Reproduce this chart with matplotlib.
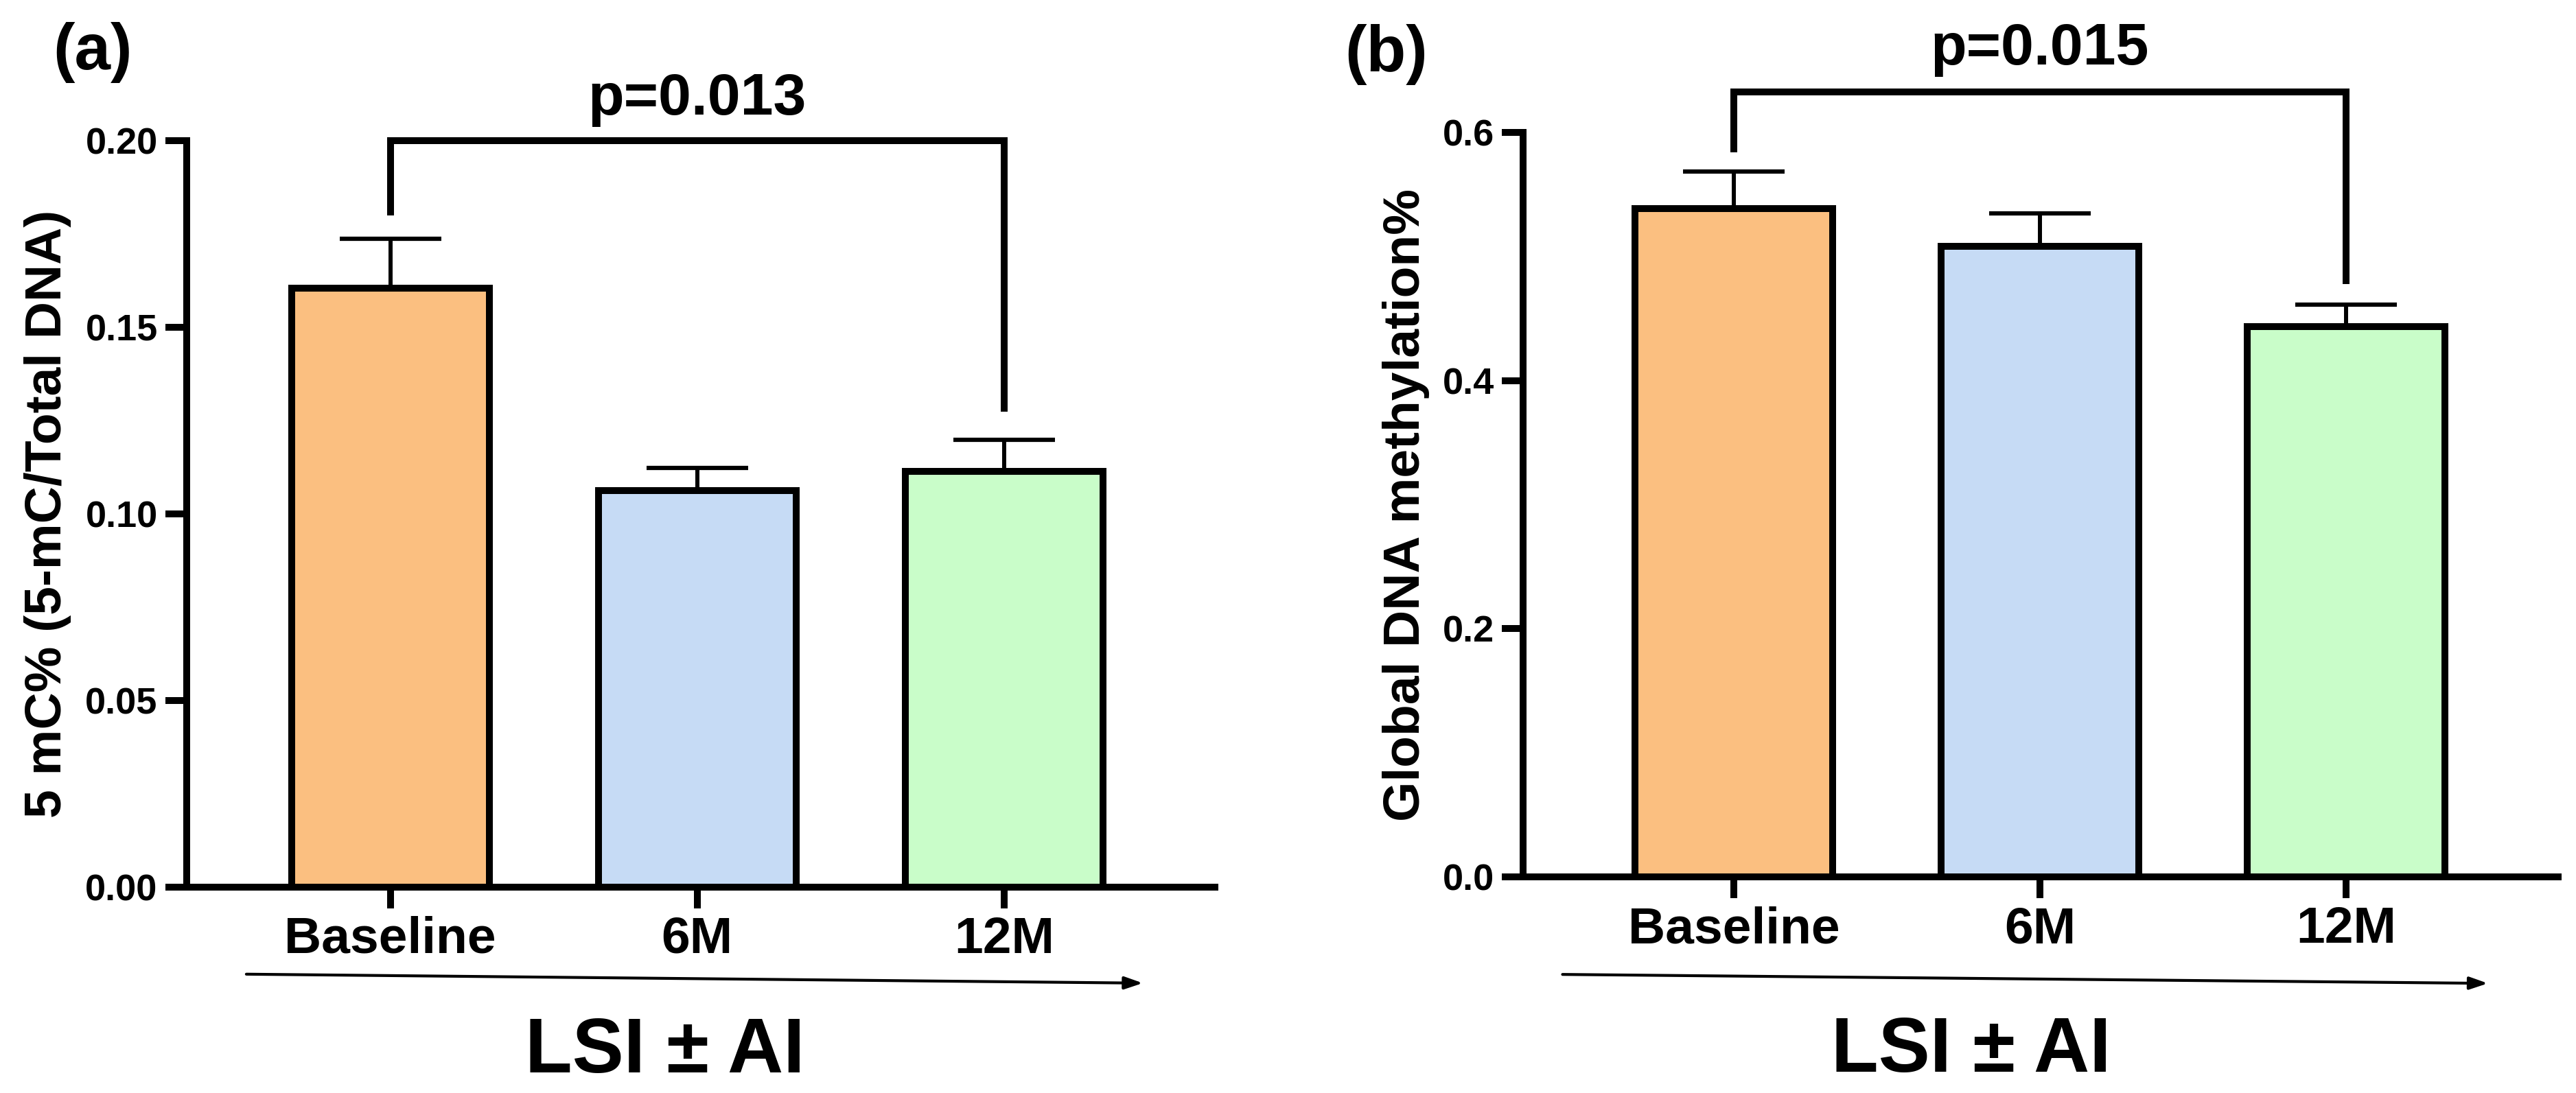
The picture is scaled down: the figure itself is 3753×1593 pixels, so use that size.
import matplotlib
matplotlib.use("Agg")
import matplotlib.pyplot as plt
import numpy as np

plt.rcParams['font.family'] = ['Liberation Sans', 'DejaVu Sans']
plt.rcParams['font.weight'] = 'bold'

# ---- data ----
categories = ["Baseline", "6M", "12M"]
colors = ["#FBBF80", "#C6DBF5", "#C9FDC9"]

mc_mean = [0.1605, 0.1062, 0.1113]
mc_sem = [0.0132, 0.0060, 0.0085]
mc_ylabel = "5 mC% (5-mC/Total DNA)"
mc_ticks = [0.00, 0.05, 0.10, 0.15, 0.20]
mc_ticklabels = ["0.00", "0.05", "0.10", "0.15", "0.20"]
mc_p = "p=0.013"
mc_bracket = [0.180, 0.200, 0.1273]  # left leg end, top, right leg end

gm_mean = [0.5385, 0.5085, 0.4437]
gm_sem = [0.0300, 0.0265, 0.0178]
gm_ylabel = "Global DNA methylation%"
gm_ticks = [0.0, 0.2, 0.4, 0.6]
gm_ticklabels = ["0.0", "0.2", "0.4", "0.6"]
gm_p = "p=0.015"
gm_bracket = [0.584, 0.6325, 0.478]

xlabel_text = "LSI \u00b1 AI"

LW = 7.2

fig = plt.figure(figsize=(37.53, 15.93), dpi=100)

def panel(rect, means, sems, ylim, ticks, ticklabels, ylabel, ylabel_x,
          ptext, pty, bracket, xlim, letter, letter_xy, arrow, lsi_xy):
    ax = fig.add_axes(rect)
    x = np.arange(len(categories))
    ax.errorbar(x, means, yerr=[np.zeros(len(sems)), sems], fmt='none',
                ecolor='black', elinewidth=4.3, capsize=53, capthick=4.5,
                zorder=1)
    ax.bar(x, means, width=0.645, color=colors, edgecolor='black',
           linewidth=LW, zorder=2)
    ax.set_xlim(*xlim)
    ax.set_ylim(*ylim)
    ax.set_yticks(ticks)
    ax.set_yticklabels(ticklabels)
    ax.set_xticks(x)
    ax.set_xticklabels(categories)
    for s in ['top', 'right']:
        ax.spines[s].set_visible(False)
    for s in ['left', 'bottom']:
        ax.spines[s].set_linewidth(LW)
    ax.tick_params(axis='y', length=22, width=LW, labelsize=39, pad=8.5)
    ax.tick_params(axis='x', length=22, width=LW, labelsize=54, pad=8.5)
    for t in ax.get_xticklabels() + ax.get_yticklabels():
        t.set_fontweight('bold')
    ax.set_ylabel(ylabel, fontsize=54, fontweight='bold')
    ax.yaxis.set_label_coords(ylabel_x, 0.5)
    # significance bracket
    ax.plot([0, 0, 2, 2], [bracket[0], bracket[1], bracket[1], bracket[2]],
            color='black', lw=LW, clip_on=False, solid_joinstyle='miter',
            solid_capstyle='butt', zorder=3)
    ax.text(1.0, pty, ptext, ha='center', va='baseline', fontsize=62,
            fontweight='bold')
    # arrow under categories
    ax.annotate('', xy=arrow[1], xytext=arrow[0], xycoords='axes fraction',
                textcoords='axes fraction', annotation_clip=False,
                arrowprops=dict(arrowstyle='-|>,head_length=1.6,head_width=0.55',
                                color='black', lw=3.0, shrinkA=0, shrinkB=0))
    ax.text(lsi_xy[0], lsi_xy[1], xlabel_text, transform=ax.transAxes,
            ha='center', va='baseline', fontsize=81, fontweight='bold')
    fig.text(letter_xy[0], letter_xy[1], letter, ha='left', va='top',
             fontsize=68, fontweight='bold')
    return ax

panel([0.07248, 0.1886, 0.3991, 0.6827], mc_mean, mc_sem, (0, 0.2), mc_ticks,
      mc_ticklabels, mc_ylabel, -0.112, mc_p, 0.207, mc_bracket,
      (-0.664, 2.687), "(a)", (0.0205, 0.980),
      ((0.058, -0.117), (0.930, -0.129)), (0.465, -0.2487))

panel([0.5913, 0.1977, 0.4018, 0.681], gm_mean, gm_sem, (0, 0.6), gm_ticks,
      gm_ticklabels, gm_ylabel, -0.090, gm_p, 0.655, gm_bracket,
      (-0.688, 2.693), "(b)", (0.522, 0.978),
      ((0.038, -0.131), (0.932, -0.143)), (0.433, -0.262))

fig.savefig("out.png", dpi=100, facecolor='white')
